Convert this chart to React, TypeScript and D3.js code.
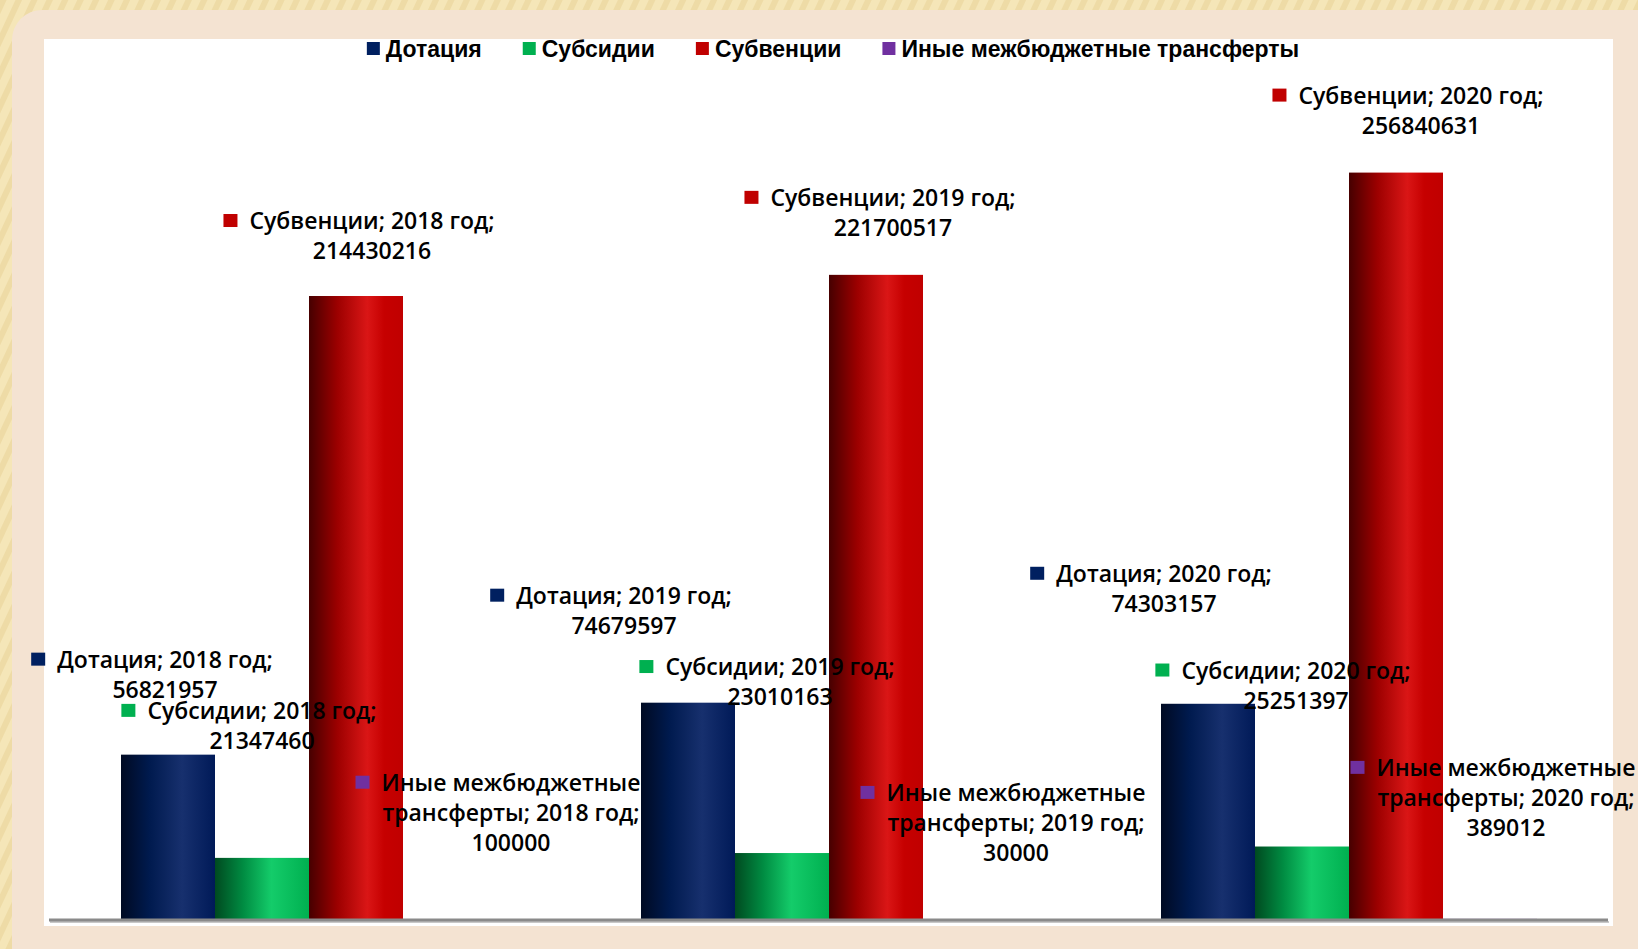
import React, { useEffect, useRef } from 'react';
import * as d3 from 'd3';

const years = ['2018 год', '2019 год', '2020 год'];
const seriesNames = ['Дотация', 'Субсидии', 'Субвенции', 'Иные межбюджетные трансферты'];
const dotacia = [56821957, 74679597, 74303157];
const subsidii = [21347460, 23010163, 25251397];
const subvencii = [214430216, 221700517, 256840631];
const inye = [100000, 30000, 389012];

const seriesValues = [dotacia, subsidii, subvencii, inye];
const colors = ['#002060', '#00b050', '#c00000', '#7030a0'];
const gradStops = [
  [['0', '#000a22'], ['0.3', '#001a4e'], ['0.65', '#17306e'], ['1', '#001a58']],
  [['0', '#004a20'], ['0.3', '#008c42'], ['0.6', '#14cc6a'], ['1', '#00b050']],
  [['0', '#460000'], ['0.3', '#9c0000'], ['0.62', '#da1616'], ['0.8', '#c60000'], ['1', '#c00000']],
  [['0', '#3a1060'], ['0.6', '#8a40c0'], ['1', '#7030a0']],
];

// label position relative to bar (text centre x, first line centre y)
const labelOffsets = [
  [[-3, -95], [-64, -107], [-44, -130]],
  [[0, -147], [-2, -186], [-6, -176]],
  [[16, -75], [17, -77], [25, -77]],
  [[61, -137], [46, -127], [16, -151]],
];

const W = 1638;
const H = 949;

function App() {
  const ref = useRef(null);

  useEffect(() => {
    const svg = d3.select(ref.current);
    svg.selectAll('*').remove();
    const defs = svg.append('defs');

    const pat = defs.append('pattern')
      .attr('id', 'stripes')
      .attr('width', 14).attr('height', 14)
      .attr('patternUnits', 'userSpaceOnUse')
      .attr('patternTransform', 'rotate(25)');
    pat.append('rect').attr('width', 14).attr('height', 14).attr('fill', '#f5e6b8');
    pat.append('rect').attr('width', 6).attr('height', 14).attr('fill', '#eedba6');

    gradStops.forEach((stops, i) => {
      const g = defs.append('linearGradient').attr('id', 'g' + i)
        .attr('x1', 0).attr('x2', 1).attr('y1', 0).attr('y2', 0);
      stops.forEach(s => g.append('stop').attr('offset', s[0]).attr('stop-color', s[1]));
    });

    // background + frame
    svg.append('rect').attr('width', W).attr('height', H).attr('fill', 'url(#stripes)');
    svg.append('rect').attr('x', 12).attr('y', 10).attr('width', W + 30).attr('height', H + 30)
      .attr('rx', 30).attr('fill', '#f4e3d2');
    svg.append('rect').attr('x', 44).attr('y', 39).attr('width', 1569).attr('height', 887)
      .attr('fill', '#ffffff');

    const x0 = d3.scaleBand().domain(years).range([49, 1609]).padding(0);
    const x1 = d3.scaleBand().domain(seriesNames).range([72, 448]).padding(0);
    const y = d3.scaleLinear().domain([0, 300000000]).range([920, 47]);

    // bars
    seriesValues.forEach((vals, si) => {
      svg.append('g').selectAll('rect').data(vals).enter().append('rect')
        .attr('x', (d, i) => x0(years[i]) + x1(seriesNames[si]))
        .attr('y', d => y(d))
        .attr('width', x1.bandwidth())
        .attr('height', d => y(0) - y(d))
        .attr('fill', 'url(#g' + si + ')');
    });

    // axis line
    svg.append('line').attr('x1', 50).attr('x2', 1609).attr('y1', 922).attr('y2', 922)
      .attr('stroke', '#c8c8c8').attr('stroke-width', 2);
    svg.append('line').attr('x1', 49).attr('x2', 1608).attr('y1', 920).attr('y2', 920)
      .attr('stroke', '#8a8a8a').attr('stroke-width', 3);

    // legend
    const legend = svg.append('g')
      .style('font-family', '"Liberation Sans", Arial, sans-serif')
      .style('font-weight', 'bold')
      .style('font-size', '23px');
    const items = seriesNames.map((name, i) => {
      const g = legend.append('g');
      g.append('rect').attr('width', 13).attr('height', 13).attr('y', -7).attr('fill', colors[i]);
      const t = g.append('text').attr('x', 19).attr('dy', '0.35em').attr('fill', '#000').text(name);
      const w = 19 + t.node().getComputedTextLength();
      return { g, w };
    });
    const gap = 41;
    const total = d3.sum(items, d => d.w) + gap * (items.length - 1);
    let lx = 833 - total / 2;
    items.forEach(it => {
      it.g.attr('transform', `translate(${lx},49)`);
      lx += it.w + gap;
    });

    // data labels
    const labels = svg.append('g')
      .style('font-family', '"Open Sans", Roboto, sans-serif')
      .style('font-weight', 600)
      .style('font-size', '23px');
    seriesValues.forEach((vals, si) => {
      vals.forEach((v, i) => {
        const cx = x0(years[i]) + x1(seriesNames[si]) + x1.bandwidth() / 2;
        const [dx, dy] = labelOffsets[si][i];
        const tx = cx + dx;
        const ty = y(v) + dy;
        const lines = si === 3
          ? ['Иные межбюджетные', `трансферты; ${years[i]};`, String(v)]
          : [`${seriesNames[si]}; ${years[i]};`, String(v)];
        const g = labels.append('g');
        let maxW = 0;
        lines.forEach((ln, k) => {
          const t = g.append('text')
            .attr('x', tx).attr('y', ty + k * 30)
            .attr('text-anchor', 'middle')
            .attr('dy', '0.35em')
            .attr('fill', '#000')
            .text(ln);
          maxW = Math.max(maxW, t.node().getComputedTextLength());
        });
        g.insert('rect', 'text')
          .attr('x', tx - maxW / 2 - 12 - 14)
          .attr('y', ty - 7)
          .attr('width', 14).attr('height', 13)
          .attr('fill', colors[si]);
      });
    });
  }, []);

  return (
    <svg ref={ref} width={W} height={H}
      style={{ position: 'absolute', left: 0, top: 0, display: 'block' }} />
  );
}

export default App;
